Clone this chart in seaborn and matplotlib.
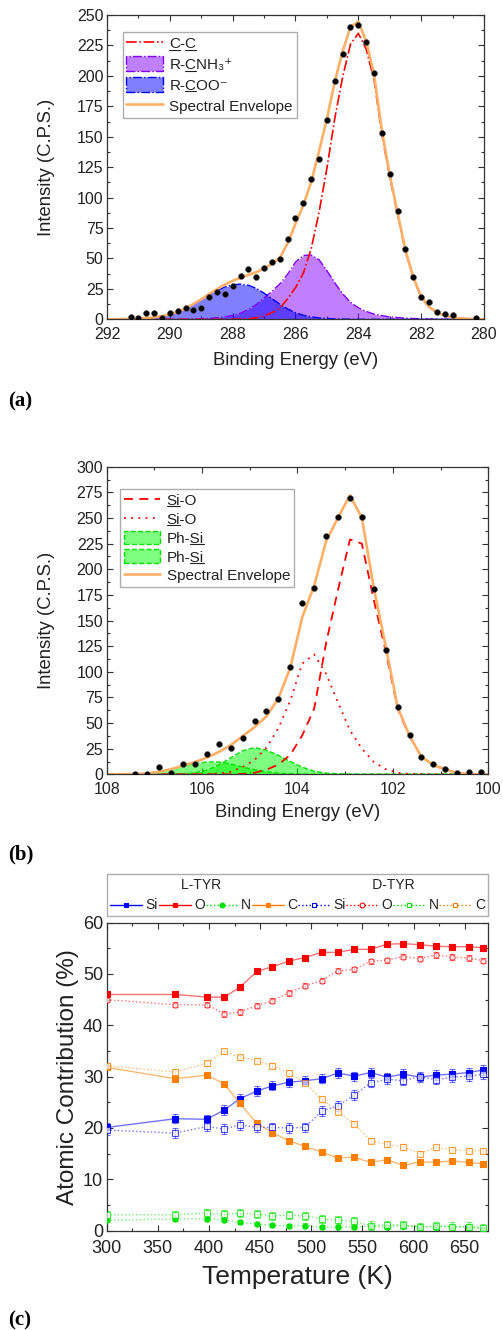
# ==========================================
# XPS C 1s / Si 2p FITS AND ATOMIC CONTRIBUTION VS TEMPERATURE
# ==========================================

import numpy as np
import pandas as pd
import matplotlib
matplotlib.use('Agg')
import matplotlib.pyplot as plt
import seaborn as sns
from matplotlib.lines import Line2D
from matplotlib.patches import Patch
from matplotlib.ticker import MultipleLocator

# ==========================================
# PANEL (a) : C 1s
# ==========================================

be_a = [291.25, 291.0, 290.75, 290.5, 290.25, 290.0, 289.75, 289.5, 289.25, 289.0,
        288.75, 288.5, 288.25, 288.0, 287.75, 287.5, 287.25, 287.0, 286.75, 286.5,
        286.25, 286.0, 285.75, 285.5, 285.25, 285.0, 284.75, 284.5, 284.25, 284.0,
        283.75, 283.5, 283.25, 283.0, 282.75, 282.5, 282.25, 282.0, 281.75, 281.5,
        281.25, 281.0, 280.25]
cps_a = [1.6, 1.3, 5.6, 4.8, 1.3, 5.6, 6.9, 9.5, 8.0, 8.9,
         18.5, 22.1, 21.0, 27.0, 35.8, 41.3, 34.7, 41.9, 47.0, 49.5,
         65.6, 83.1, 95.3, 115.3, 131.4, 163.7, 196.1, 218.0, 240.4, 241.8,
         228.1, 202.1, 153.3, 119.4, 88.7, 57.5, 35.0, 18.6, 14.2, 6.0,
         4.4, 3.3, 1.4]

fit_x_a = [292.0, 291.75, 291.5, 291.25, 291.0, 290.75, 290.5, 290.25, 290.0, 289.75,
           289.5, 289.25, 289.0, 288.75, 288.5, 288.25, 288.0, 287.75, 287.5, 287.25,
           287.0, 286.75, 286.5, 286.25, 286.0, 285.75, 285.5, 285.25, 285.0, 284.75,
           284.5, 284.25, 284.0, 283.75, 283.5, 283.25, 283.0, 282.75, 282.5, 282.25,
           282.0, 281.75, 281.5, 281.25, 281.0, 280.75, 280.5, 280.25, 280.0]
cc_a = [0, 0, 0, 0, 0, 0, 0, 0, 0, 0,
        0, 0, 0, 0, 0, 0, 0.1, 0.2, 0.5, 1.2,
        2.8, 5.5, 9, 17, 26, 38, 58, 88, 124, 165,
        199, 226, 235, 222, 197, 152, 117, 86, 56, 34,
        18, 10, 5.5, 3, 1.6, 0.8, 0.4, 0.15, 0.05]
cnh3_a = [0, 0, 0, 0, 0, 0, 0, 0, 0, 0,
          0, 0.3, 0.5, 0.8, 1.3, 2, 3.2, 5, 8, 12,
          17.5, 23, 29, 37, 47, 52.5, 52.8, 49, 40, 30,
          21, 14, 9.5, 6.5, 4.3, 3, 2, 1.4, 1.0, 0.7,
          0.5, 0.3, 0.2, 0.1, 0, 0, 0, 0, 0]
coo_a = [0.05, 0.1, 0.2, 0.35, 0.6, 1.0, 1.7, 2.7, 4.2, 6.2,
         9, 12.3, 16, 20, 23.5, 26.5, 28.3, 29, 28, 25.5,
         21.5, 17, 12.5, 8.5, 5.5, 3.3, 2.0, 1.2, 0.7, 0.4,
         0.2, 0.1, 0, 0, 0, 0, 0, 0, 0, 0,
         0, 0, 0, 0, 0, 0, 0, 0, 0]
env_a = [0.05, 0.1, 0.2, 0.35, 0.6, 1.0, 1.7, 2.7, 4.2, 6.2,
         9, 12.6, 16.5, 20.8, 24.8, 28.5, 31.6, 34.2, 36.5, 38.7,
         41.8, 45.5, 50.5, 62.5, 78.5, 93.8, 112.8, 138.2, 164.7, 195.4,
         220.2, 240.1, 244.5, 228.5, 201.3, 155, 119, 87.4, 57, 34.7,
         18.5, 10.3, 5.7, 3.1, 1.6, 0.8, 0.4, 0.15, 0.05]

# ==========================================
# PANEL (b) : Si 2p
# ==========================================

be_b = [107.4, 107.15, 106.9, 106.65, 106.4, 106.15, 105.9, 105.65, 105.4, 105.15,
        104.9, 104.65, 104.4, 104.15, 103.9, 103.65, 103.4, 103.15, 102.9, 102.65,
        102.4, 102.15, 101.9, 101.65, 101.4, 101.15, 100.9, 100.65, 100.4, 100.15]
cps_b = [0.3, 0, 7.5, 1.6, 9.6, 9.6, 19.6, 29.1, 25.8, 35.7,
         52, 61.8, 73.7, 104.4, 166.8, 182, 232.4, 251.3, 269.2, 251,
         180.4, 121.3, 66, 38.4, 16.6, 9.8, 5.2, 1.0, 2.6, 2.6]

fit_x_b = [108.15, 107.9, 107.65, 107.4, 107.15, 106.9, 106.65, 106.4, 106.15, 105.9,
           105.65, 105.4, 105.15, 104.9, 104.65, 104.4, 104.15, 103.9, 103.65, 103.4,
           103.15, 102.9, 102.65, 102.4, 102.15, 101.9, 101.65, 101.4, 101.15, 100.9,
           100.65, 100.4, 100.15, 99.9]
sio_1_b = [0, 0, 0, 0, 0, 0, 0, 0, 0, 0,
           0, 0, 0.3, 1.5, 4.5, 9.5, 19, 38, 64, 128,
           180, 229, 225, 170, 120, 64, 37, 17, 9, 4.8,
           1.2, 0.3, 0.1, 0]
sio_2_b = [0, 0, 0, 0, 0, 0, 0, 0, 0, 0.2,
           0.8, 2.5, 7, 14, 26, 45, 72, 108, 117, 98,
           70, 43, 25, 12, 5, 1.5, 0.4, 0.1, 0, 0,
           0, 0, 0, 0]
phsi_1_b = [0, 0, 0, 0, 0, 0, 0.1, 0.5, 1.5, 4,
            9, 16, 23, 26, 23.5, 18.5, 12.5, 7, 3, 1.2,
            0.4, 0.1, 0, 0, 0, 0, 0, 0, 0, 0,
            0, 0, 0, 0]
phsi_2_b = [0, 0.05, 0.2, 0.4, 0.8, 2.5, 5, 8, 10.5, 12,
            12, 10, 7, 4.5, 2.5, 1.2, 0.5, 0.2, 0.05, 0,
            0, 0, 0, 0, 0, 0, 0, 0, 0, 0,
            0, 0, 0, 0]
env_b = [0, 0.05, 0.2, 0.4, 0.8, 2.5, 5.1, 8.5, 12, 16.2,
         21.8, 28.5, 37.3, 46, 56.5, 74.2, 104, 153.2, 184, 227.2,
         250.4, 272.1, 250, 182, 125, 65.5, 37.4, 17.1, 9, 4.8,
         1.2, 0.3, 0.1, 0]

# ==========================================
# PANEL (c) : ATOMIC CONTRIBUTION
# ==========================================

temp_c = [300, 367, 398, 415, 430, 447, 462, 478, 494, 510,
          526, 542, 558, 574, 590, 606, 622, 638, 654, 668]

si_l = [20.1, 21.8, 21.7, 23.5, 25.7, 27.2, 28.2, 28.9, 29.2, 29.6,
        30.7, 30.1, 30.8, 29.9, 30.5, 29.9, 30.3, 30.5, 30.8, 31.3]
o_l = [46.0, 46.0, 45.5, 45.5, 47.4, 50.5, 51.4, 52.5, 53.2, 54.2,
       54.2, 54.8, 54.8, 55.8, 55.9, 55.7, 55.4, 55.3, 55.3, 55.1]
n_l = [2.0, 2.3, 2.3, 2.1, 1.6, 1.3, 1.05, 0.9, 1.0, 0.7,
       0.7, 0.7, 0.9, 0.7, 1.0, 0.7, 0.8, 0.7, 0.8, 0.35]
c_l = [31.8, 29.6, 30.3, 28.6, 24.8, 20.9, 19.1, 17.5, 16.4, 15.3,
       14.2, 14.3, 13.3, 13.8, 12.7, 13.4, 13.3, 13.6, 13.3, 13.0]

si_d = [19.6, 19.0, 20.3, 19.8, 20.6, 20.1, 20.1, 20.0, 20.1, 23.3,
        24.3, 26.4, 28.8, 29.5, 29.2, 30.0, 29.4, 29.9, 30.1, 30.5]
o_d = [45.0, 44.0, 44.0, 42.2, 42.6, 43.8, 44.8, 46.3, 47.7, 48.7,
       50.6, 50.9, 52.5, 52.7, 53.4, 53.0, 53.7, 53.3, 53.1, 52.6]
n_d = [3.1, 3.1, 3.4, 3.2, 3.4, 3.2, 2.9, 3.0, 2.9, 2.3,
       2.1, 1.8, 1.0, 1.1, 1.1, 0.7, 0.9, 0.8, 0.8, 0.5]
c_d = [32.1, 30.9, 32.6, 34.9, 33.8, 33.1, 32.1, 30.7, 28.8, 25.6,
       23.2, 20.8, 17.5, 16.8, 16.3, 15.0, 16.2, 15.7, 15.6, 15.6]

err_si = 0.9
err_o = 0.5
err_n_l = 0.4
err_n_d = 0.8
err_c_l = 0.3
err_c_d = 0.5

legend_labels_c = ['Si', 'O', 'N', 'C', 'Si', 'O', 'N', 'C']

# ==========================================
# STYLE
# ==========================================

sns.set_theme(style='ticks')
plt.rcParams['font.family'] = ['Liberation Sans', 'DejaVu Sans']
plt.rcParams['axes.edgecolor'] = '#333333'
plt.rcParams['text.color'] = '#222222'
plt.rcParams['axes.labelcolor'] = '#222222'

BLUE = '#0000ff'
RED = '#ff0000'
GREEN = '#00e000'
ORANGE = '#ff8000'
PURPLE = '#8000ff'
ENV = '#ffb066'


def style_axes(ax, fs, xpad):
    ax.tick_params(which='both', direction='in', top=True, right=True,
                   labelsize=fs, colors='#333333', labelcolor='#222222', width=0.8)
    ax.tick_params(which='major', length=4)
    ax.tick_params(which='minor', length=2.2)
    ax.tick_params(axis='x', pad=xpad)
    ax.tick_params(axis='y', pad=2.5)
    for s in ax.spines.values():
        s.set_linewidth(0.9)
        s.set_color('#333333')


fig = plt.figure(figsize=(5.03, 13.30), dpi=100)

ax_a = fig.add_axes([0.2127, 0.7599, 0.7495, 0.2288])
ax_b = fig.add_axes([0.2121, 0.4178, 0.7586, 0.2313])
ax_c = fig.add_axes([0.2121, 0.0747, 0.7586, 0.2316])

# ==========================================
# DRAW PANEL (a)
# ==========================================

ax_a.fill_between(fit_x_a, cnh3_a, 0, facecolor=PURPLE, alpha=0.5, linewidth=0)
ax_a.fill_between(fit_x_a, coo_a, 0, facecolor=BLUE, alpha=0.5, linewidth=0)
sns.lineplot(x=fit_x_a, y=cnh3_a, ax=ax_a, color=PURPLE, linestyle='-.', linewidth=1.0, sort=False)
sns.lineplot(x=fit_x_a, y=coo_a, ax=ax_a, color=BLUE, linestyle='-.', linewidth=1.0, sort=False)
sns.lineplot(x=fit_x_a, y=cc_a, ax=ax_a, color=RED, linestyle='-.', linewidth=1.2, sort=False)
sns.lineplot(x=fit_x_a, y=env_a, ax=ax_a, color=ENV, linewidth=1.9, sort=False)
sns.scatterplot(x=be_a, y=cps_a, ax=ax_a, color='black', s=18, edgecolor='#555555',
                linewidth=0.4, legend=False, zorder=5)

ax_a.set_xlim(292, 280)
ax_a.set_ylim(0, 250)
ax_a.xaxis.set_major_locator(MultipleLocator(2))
ax_a.xaxis.set_minor_locator(MultipleLocator(1))
ax_a.yaxis.set_major_locator(MultipleLocator(25))
ax_a.yaxis.set_minor_locator(MultipleLocator(12.5))
style_axes(ax_a, 11.5, 5.5)
ax_a.set_xlabel('Binding Energy (eV)', fontsize=13.3)
ax_a.set_ylabel('Intensity (C.P.S.)', fontsize=13.3)
ax_a.xaxis.set_label_coords(0.5, -0.1075)
ax_a.yaxis.set_label_coords(-0.138, 0.5)

handles_a = [
    Line2D([], [], color=RED, linestyle='-.', linewidth=1.2),
    Patch(facecolor=(0.5, 0.0, 1.0, 0.5), edgecolor=PURPLE, linestyle='-.', linewidth=1.0),
    Patch(facecolor=(0.0, 0.0, 1.0, 0.5), edgecolor=BLUE, linestyle='-.', linewidth=1.0),
    Line2D([], [], color=ENV, linewidth=1.9),
]
labels_a = ['C-C', 'R-CNH\u2083\u207a', 'R-COO\u207b', 'Spectral Envelope']
underline_a = [[(0, 1), (2, 3)], [(2, 3)], [(2, 3)], []]
leg_a = ax_a.legend(handles_a, labels_a, loc='upper left', bbox_to_anchor=(0.0416, 0.945),
                    borderaxespad=0, fontsize=11, frameon=True, fancybox=False,
                    edgecolor='#999999', handlelength=2.4, handleheight=1.1,
                    labelspacing=0.35, borderpad=0.25, handletextpad=0.4)

# ==========================================
# DRAW PANEL (b)
# ==========================================

ax_b.fill_between(fit_x_b, phsi_1_b, 0, facecolor='#00ff00', alpha=0.5, linewidth=0)
ax_b.fill_between(fit_x_b, phsi_2_b, 0, facecolor='#00ff00', alpha=0.5, linewidth=0)
sns.lineplot(x=fit_x_b, y=phsi_1_b, ax=ax_b, color=GREEN, linestyle='--', linewidth=1.0, sort=False)
sns.lineplot(x=fit_x_b, y=phsi_2_b, ax=ax_b, color=GREEN, linestyle='--', linewidth=1.0, sort=False)
sns.lineplot(x=fit_x_b, y=sio_1_b, ax=ax_b, color=RED, linestyle=(0, (5, 3.5)), linewidth=1.3, sort=False)
sns.lineplot(x=fit_x_b, y=sio_2_b, ax=ax_b, color=RED, linestyle=(0, (1, 3)), linewidth=1.3, sort=False)
sns.lineplot(x=fit_x_b, y=env_b, ax=ax_b, color=ENV, linewidth=1.9, sort=False)
sns.scatterplot(x=be_b, y=cps_b, ax=ax_b, color='black', s=18, edgecolor='#555555',
                linewidth=0.4, legend=False, zorder=5)

ax_b.set_xlim(108, 100)
ax_b.set_ylim(0, 300)
ax_b.xaxis.set_major_locator(MultipleLocator(2))
ax_b.xaxis.set_minor_locator(MultipleLocator(1))
ax_b.yaxis.set_major_locator(MultipleLocator(25))
ax_b.yaxis.set_minor_locator(MultipleLocator(12.5))
style_axes(ax_b, 11.5, 5.5)
ax_b.set_xlabel('Binding Energy (eV)', fontsize=13.3)
ax_b.set_ylabel('Intensity (C.P.S.)', fontsize=13.3)
ax_b.xaxis.set_label_coords(0.5, -0.0966)
ax_b.yaxis.set_label_coords(-0.136, 0.5)

handles_b = [
    Line2D([], [], color=RED, linestyle=(0, (5, 3.5)), linewidth=1.3),
    Line2D([], [], color=RED, linestyle=(0, (1, 3)), linewidth=1.3),
    Patch(facecolor=(0.0, 1.0, 0.0, 0.5), edgecolor=GREEN, linestyle='--', linewidth=1.0),
    Patch(facecolor=(0.0, 1.0, 0.0, 0.5), edgecolor=GREEN, linestyle='--', linewidth=1.0),
    Line2D([], [], color=ENV, linewidth=1.9),
]
labels_b = ['Si-O', 'Si-O', 'Ph-Si', 'Ph-Si', 'Spectral Envelope']
underline_b = [[(0, 2)], [(0, 2)], [(3, 5)], [(3, 5)], []]
leg_b = ax_b.legend(handles_b, labels_b, loc='upper left', bbox_to_anchor=(0.0349, 0.9275),
                    borderaxespad=0, fontsize=11, frameon=True, fancybox=False,
                    edgecolor='#999999', handlelength=2.4, handleheight=1.0,
                    labelspacing=0.25, borderpad=0.25, handletextpad=0.4)

# ==========================================
# DRAW PANEL (c)
# ==========================================

series_c = [
    (si_l, err_si, BLUE, '-', 's', True),
    (o_l, err_o, RED, '-', 's', True),
    (n_l, err_n_l, GREEN, ':', 'o', True),
    (c_l, err_c_l, ORANGE, '-', 's', True),
    (si_d, err_si, BLUE, ':', 's', False),
    (o_d, err_o, RED, ':', 'o', False),
    (n_d, err_n_d, GREEN, ':', 's', False),
    (c_d, err_c_d, ORANGE, ':', 's', False),
]

handles_c = []
for vals, err, col, ls, mk, filled in series_c:
    sns.lineplot(x=temp_c, y=vals, ax=ax_c, color=col, linestyle=ls, linewidth=1.0,
                 alpha=0.55, sort=False)
    ax_c.errorbar(temp_c, vals, yerr=err, fmt='none', ecolor=col, elinewidth=0.8,
                  capsize=2, capthick=0.8, alpha=0.55)
    sns.scatterplot(x=temp_c, y=vals, ax=ax_c, marker=mk, s=14,
                    color=col if filled else 'white', edgecolor=col, linewidth=0.8,
                    alpha=1.0 if filled else 0.7, legend=False, zorder=4)
    handles_c.append(Line2D([], [], color=col, linestyle=ls, linewidth=1.0, marker=mk,
                            markersize=3.5, markerfacecolor=col if filled else 'white',
                            markeredgecolor=col, markeredgewidth=0.8))

ax_c.set_xlim(300, 673)
ax_c.set_ylim(0, 60)
ax_c.xaxis.set_major_locator(MultipleLocator(50))
ax_c.xaxis.set_minor_locator(MultipleLocator(25))
ax_c.yaxis.set_major_locator(MultipleLocator(10))
ax_c.yaxis.set_minor_locator(MultipleLocator(5))
style_axes(ax_c, 13, 6.5)
ax_c.set_xlabel('Temperature (K)', fontsize=19)
ax_c.set_ylabel('Atomic Contribution (%)', fontsize=17.5)
ax_c.xaxis.set_label_coords(0.5, -0.11)
ax_c.yaxis.set_label_coords(-0.073, 0.5)

leg_c = fig.legend(handles_c, legend_labels_c, loc='lower left',
                   bbox_to_anchor=(0.2121, 0.3113, 0.7586, 0.0293), mode='expand',
                   ncol=8, fontsize=10, frameon=True, fancybox=False, edgecolor='#999999',
                   handlelength=2.3, handletextpad=0.25, columnspacing=0.2,
                   borderpad=0.25, borderaxespad=0,
                   title='L-TYR' + ' ' * 39 + 'D-TYR', title_fontsize=10)

# ==========================================
# PANEL LETTERS
# ==========================================

for letter, ypos in [('(a)', 0.698), ('(b)', 0.3575), ('(c)', 0.0075)]:
    fig.text(0.016, ypos, letter, fontsize=15, fontweight='bold',
             family='Liberation Serif', va='center', ha='left', color='black')

# ==========================================
# UNDERLINED ATOMS IN LEGEND LABELS
# ==========================================

fig.canvas.draw()
renderer = fig.canvas.get_renderer()


def add_underlines(legend, spans_list):
    for txt, spans in zip(legend.get_texts(), spans_list):
        if not spans:
            continue
        s = txt.get_text()
        prop = txt.get_fontproperties()
        bb = txt.get_window_extent(renderer)
        d_s = renderer.get_text_width_height_descent(s, prop, ismath=False)[2]
        d_lp = renderer.get_text_width_height_descent('lp', prop, ismath=False)[2]
        y = bb.y0 + max(d_s, d_lp) - 1.6
        for i0, i1 in spans:
            x1 = bb.x0 + renderer.get_text_width_height_descent(s[:i1], prop, ismath=False)[0]
            x0 = x1 - renderer.get_text_width_height_descent(s[i0:i1], prop, ismath=False)[0]
            p0 = fig.transFigure.inverted().transform((x0, y))
            p1 = fig.transFigure.inverted().transform((x1, y))
            fig.add_artist(Line2D([p0[0], p1[0]], [p0[1], p1[1]],
                                  transform=fig.transFigure, color='#222222', linewidth=0.8))


add_underlines(leg_a, underline_a)
add_underlines(leg_b, underline_b)

fig.savefig('out.png', dpi=100)
